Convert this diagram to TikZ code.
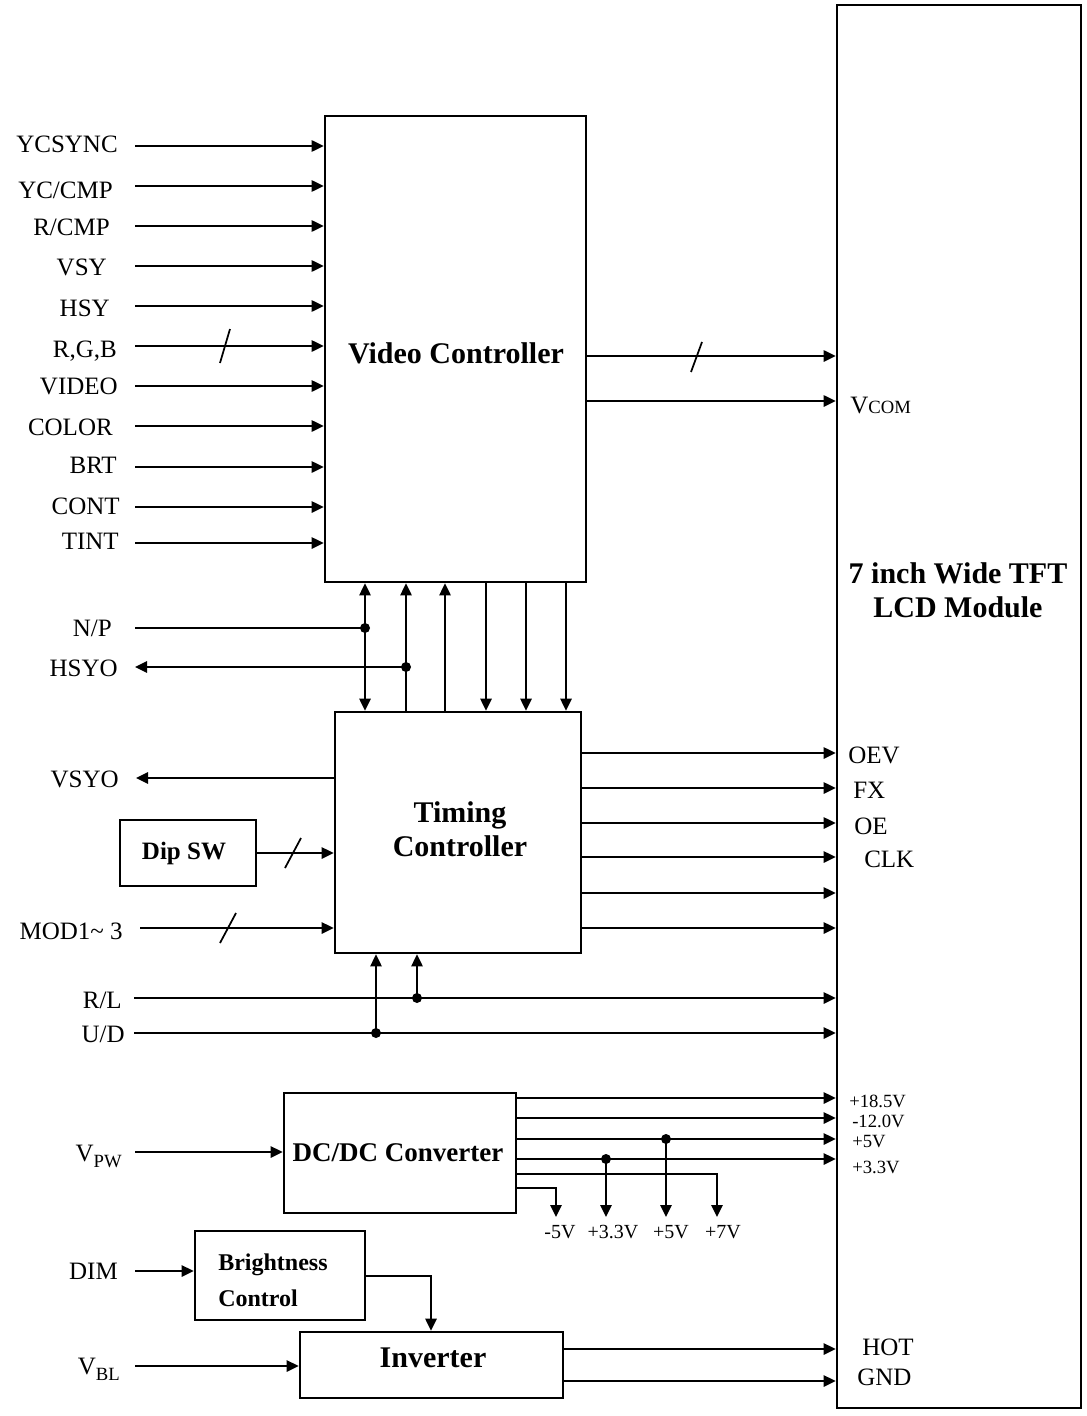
\documentclass[tikz,border=0pt]{standalone}
\usepackage{fontspec}
\setmainfont{Liberation Serif}
\usetikzlibrary{arrows.meta,fit}
\newcommand{\myfs}[2]{\fontsize{#1}{#2}\selectfont}
\begin{document}
\begin{tikzpicture}[x=0.75pt,y=-0.75pt,
  >={Triangle[length=9pt,width=8.5pt]},
  box/.style={draw,line width=2pt,inner sep=0pt},
  wire/.style={line width=1.3pt},
  arr/.style={wire,->},
  dbl/.style={wire,<->},
  dot/.style={circle,fill,inner sep=0pt,minimum size=7.5pt},
  lab/.style={font=\myfs{18.75}{22},inner sep=0pt},
  sml/.style={font=\myfs{14}{16},inner sep=0pt},
  bot/.style={font=\myfs{15}{17},inner sep=0pt},
  ttl/.style={font=\bfseries\myfs{22.5}{25.5},inner sep=0pt,align=center},
]
\useasboundingbox (0,0) rectangle (1086,1416);

% boxes
\node[box,fit={(325,116) (586,582)}] (vc) {};
\node[box,fit={(837,5) (1081,1408)}] (lcd) {};
\node[box,fit={(335,712) (581,953)}] (tc) {};
\node[box,fit={(120,820) (256,886)}] (dip) {};
\node[box,fit={(284,1093) (516,1213)}] (dc) {};
\node[box,fit={(195,1231) (365,1320)}] (bc) {};
\node[box,fit={(300,1332) (563,1398)}] (inv) {};

% titles
\node[ttl] (tvc) at (456,353) {Video Controller};
\node[ttl] (tlcd) at (958,590) {7 inch Wide TFT\\LCD Module};
\node[ttl] (ttc) at (460,829) {Timing\\Controller};
\node[font=\bfseries\myfs{18.75}{22},inner sep=0pt] (tdip) at (184,853) {Dip SW};
\node[font=\bfseries\myfs{20.25}{24},inner sep=0pt] (tdc) at (398,1153) {DC/DC Converter};
\node[font=\bfseries\myfs{18}{27},inner sep=0pt,align=left,anchor=west] (tbc) at (218,1280) {Brightness\\Control};
\node[ttl] (tinv) at (433,1358) {Inverter};

% video controller inputs
\foreach \n/\t/\lx/\y/\b in {a/YCSYNC/118/146/153, b/YC\slash CMP/113/186/198, c/R\slash CMP/110/226/235,
  d/VSY/107/266/275, e/HSY/110/306/316, f/{R,G,B}/117/346/357, g/VIDEO/118/386/394,
  h/COLOR/113/426/435, i/BRT/117/467/473, j/CONT/120/507/514, k/TINT/119/543/549} {
  \coordinate (s\n) at (135,\y);
  \node[lab,anchor=base east] (l\n) at (\lx,\b) {\t};
  \draw[arr] (s\n) -- (s\n -| vc.west);
}
\draw[wire] (220,363) -- (230,329);

% video controller outputs
\coordinate (yV1) at (0,356);
\coordinate (yV2) at (0,401);
\draw[arr] (yV1 -| vc.east) -- (yV1 -| lcd.west);
\draw[wire] (691,372) -- (702,342);
\draw[arr] (yV2 -| vc.east) -- (yV2 -| lcd.west);
\node[lab,anchor=base west] (lvcom) at (850,413) {V{\myfs{14}{16}COM}};

% verticals between VC and TC
\coordinate (x1) at (365,0);
\coordinate (x2) at (406,0);
\coordinate (x3) at (445,0);
\coordinate (x4) at (486,0);
\coordinate (x5) at (526,0);
\coordinate (x6) at (566,0);
\draw[dbl] (x1 |- vc.south) -- (x1 |- tc.north);
\draw[arr] (x2 |- tc.north) -- (x2 |- vc.south);
\draw[arr] (x3 |- tc.north) -- (x3 |- vc.south);
\draw[arr] (x4 |- vc.south) -- (x4 |- tc.north);
\draw[arr] (x5 |- vc.south) -- (x5 |- tc.north);
\draw[arr] (x6 |- vc.south) -- (x6 |- tc.north);

% N/P and HSYO
\coordinate (sNP) at (135,628);
\coordinate (tHS) at (135,667);
\node[dot] (dNP) at (x1 |- sNP) {};
\node[dot] (dHS) at (x2 |- tHS) {};
\draw[wire] (sNP) -- (dNP.center);
\draw[arr] (dHS.center) -- (tHS);
\node[lab,anchor=base east] (lNP) at (112,636) {N/P};
\node[lab,anchor=base east] (lHS) at (118,676) {HSYO};

% TC left side
\coordinate (tVS) at (136,778);
\draw[arr] (tVS -| tc.west) -- (tVS);
\node[lab,anchor=base east] (lVS) at (119,787) {VSYO};
\coordinate (yDip) at (0,853);
\draw[arr] (yDip -| dip.east) -- (yDip -| tc.west);
\draw[wire] (285,868) -- (301,838);
\coordinate (sMOD) at (140,928);
\draw[arr] (sMOD) -- (sMOD -| tc.west);
\draw[wire] (220,943) -- (236,913);
\node[lab,anchor=base east] (lMOD) at (123,939) {MOD1\textasciitilde\ 3};

% R/L and U/D
\coordinate (sRL) at (134,998);
\coordinate (sUD) at (134,1033);
\coordinate (xr) at (417,0);
\coordinate (xu) at (376,0);
\node[dot] (dRL) at (xr |- sRL) {};
\node[dot] (dUD) at (xu |- sUD) {};
\draw[arr] (sRL) -- (sRL -| lcd.west);
\draw[arr] (sUD) -- (sUD -| lcd.west);
\draw[arr] (dRL.center) -- (xr |- tc.south);
\draw[arr] (dUD.center) -- (xu |- tc.south);
\node[lab,anchor=base east] (lRL) at (122,1008) {R/L};
\node[lab,anchor=base east] (lUD) at (125,1042) {U/D};

% TC outputs
\foreach \y/\m in {753/1,788/2,823/3,857/4,893/5,928/6} {
  \coordinate (yT\m) at (0,\y);
  \draw[arr] (yT\m -| tc.east) -- (yT\m -| lcd.west);
}
\node[lab,anchor=base west] (lOEV) at (848,763) {OEV};
\node[lab,anchor=base west] (lFX) at (853,798) {FX};
\node[lab,anchor=base west] (lOE) at (854,834) {OE};
\node[lab,anchor=base west] (lCLK) at (864,867) {CLK};

% DC/DC converter
\coordinate (sPW) at (135,1152);
\draw[arr] (sPW) -- (sPW -| dc.west);
\node[lab,anchor=base east] (lPW) at (122,1161) {V\raisebox{-0.25em}{\myfs{14}{16}PW}};
\foreach \y/\m in {1098/1,1118/2,1139/3,1159/4} {
  \coordinate (yD\m) at (0,\y);
  \draw[arr] (yD\m -| dc.east) -- (yD\m -| lcd.west);
}
\coordinate (yBot) at (0,1217);
\coordinate (x5v) at (666,0);
\coordinate (x33) at (606,0);
\coordinate (x7v) at (717,0);
\coordinate (xm5) at (556,0);
\node[dot] (d5v) at (x5v |- yD3) {};
\node[dot] (d33) at (x33 |- yD4) {};
\draw[arr] (d5v.center) -- (x5v |- yBot);
\draw[arr] (d33.center) -- (x33 |- yBot);
\coordinate (yD5) at (0,1174);
\coordinate (yD6) at (0,1188);
\draw[arr] (yD5 -| dc.east) -- (x7v |- yD5) -- (x7v |- yBot);
\draw[arr] (yD6 -| dc.east) -- (xm5 |- yD6) -- (xm5 |- yBot);
\node[bot,anchor=base] (bm5) at (560,1238) {-5V};
\node[bot,anchor=base] (b33) at (613,1238) {+3.3V};
\node[bot,anchor=base] (b5v) at (671,1238) {+5V};
\node[bot,anchor=base] (b7v) at (723,1238) {+7V};
\node[sml,anchor=base west] (r185) at (849,1107) {+18.5V};
\node[sml,anchor=base west] (r12) at (852,1127) {-12.0V};
\node[sml,anchor=base west] (r5) at (852,1147) {+5V};
\node[sml,anchor=base west] (r33) at (852,1173) {+3.3V};

% brightness and inverter
\coordinate (sDIM) at (135,1271);
\draw[arr] (sDIM) -- (sDIM -| bc.west);
\node[lab,anchor=base east] (lDIM) at (118,1279) {DIM};
\coordinate (yBC) at (0,1276);
\coordinate (xBC) at (431,0);
\draw[arr] (yBC -| bc.east) -- (xBC |- yBC) -- (xBC |- inv.north);
\coordinate (sBL) at (135,1366);
\draw[arr] (sBL) -- (sBL -| inv.west);
\node[lab,anchor=base east] (lBL) at (120,1374) {V\raisebox{-0.25em}{\myfs{14}{16}BL}};
\coordinate (yI1) at (0,1349);
\coordinate (yI2) at (0,1381);
\draw[arr] (yI1 -| inv.east) -- (yI1 -| lcd.west);
\draw[arr] (yI2 -| inv.east) -- (yI2 -| lcd.west);
\node[lab,anchor=base west] (lHOT) at (862,1355) {HOT};
\node[lab,anchor=base west] (lGND) at (857,1385) {GND};
\end{tikzpicture}
\end{document}
